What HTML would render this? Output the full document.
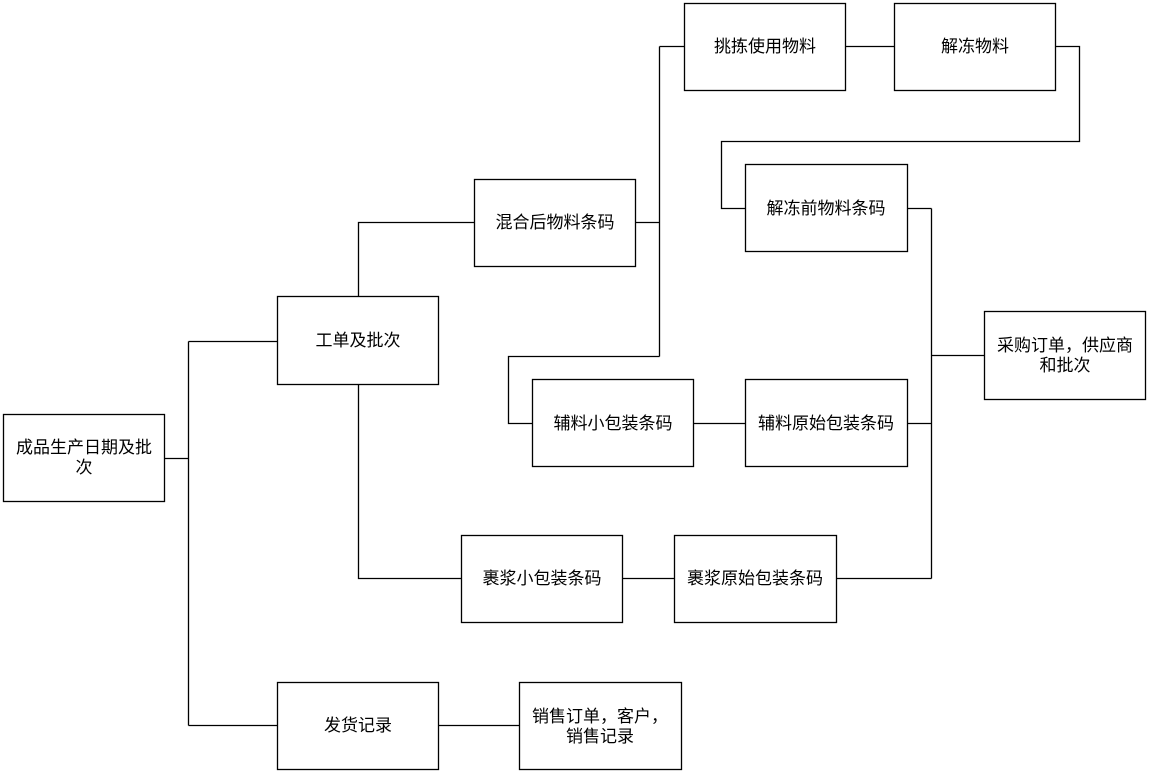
<!DOCTYPE html>
<html><head><meta charset="utf-8"><style>
html,body{margin:0;padding:0;background:#fff;width:1149px;height:773px;overflow:hidden}
svg text{font-family:"Liberation Sans","Noto Sans CJK SC",sans-serif;font-size:17px;fill:#000}
</style></head><body>
<svg width="1149" height="773" xmlns="http://www.w3.org/2000/svg">
<g fill="#fff" stroke="#000" stroke-width="1.3">
<rect x="3.5" y="414.5" width="161" height="87"/>
<rect x="277.5" y="296.5" width="161" height="88"/>
<rect x="474.5" y="179.5" width="161" height="87"/>
<rect x="684.5" y="3.5" width="161" height="87"/>
<rect x="894.5" y="3.5" width="161" height="87"/>
<rect x="745.5" y="164.5" width="162" height="87"/>
<rect x="984.5" y="311.5" width="161" height="88"/>
<rect x="532.5" y="379.5" width="161" height="87"/>
<rect x="745.5" y="379.5" width="162" height="87"/>
<rect x="461.5" y="535.5" width="161" height="87"/>
<rect x="674.5" y="535.5" width="162" height="87"/>
<rect x="277.5" y="682.5" width="161" height="87"/>
<rect x="519.5" y="682.5" width="162" height="87"/>
</g>
<g fill="none" stroke="#000" stroke-width="1.3">
<path d="M164.5 458.5H188.5M188.5 341.5V725.5M188.5 341.5H277.5M188.5 725.5H277.5"/>
<path d="M358.5 296.5V222.5H474.5M358.5 384.5V578.5H461.5"/>
<path d="M635.5 222.5H659.5M659.5 46.5V356.5M659.5 46.5H684.5M659.5 356.5H508.5V423.5H532.5"/>
<path d="M845.5 46.5H894.5M1055.5 46.5H1079.5V141.5H721.5V208.5H745.5"/>
<path d="M693.5 423.5H745.5M622.5 578.5H674.5"/>
<path d="M907.5 208.5H931.5M907.5 423.5H931.5M836.5 578.5H931.5M931.5 208.5V578.5M931.5 355.5H984.5"/>
<path d="M438.5 725.5H519.5"/>
</g>
<g text-anchor="middle">
<text x="84" y="453">成品生产日期及批</text><text x="84" y="473">次</text>
<text x="358" y="346">工单及批次</text>
<text x="555" y="228">混合后物料条码</text>
<text x="765" y="52">挑拣使用物料</text>
<text x="975" y="52">解冻物料</text>
<text x="826" y="214">解冻前物料条码</text>
<text x="1065" y="351">采购订单，供应商</text><text x="1065" y="371">和批次</text>
<text x="613" y="429">辅料小包装条码</text>
<text x="826" y="429">辅料原始包装条码</text>
<text x="542" y="584">裹浆小包装条码</text>
<text x="755" y="584">裹浆原始包装条码</text>
<text x="358" y="731">发货记录</text>
<text x="600" y="722">销售订单，客户，</text><text x="600" y="742">销售记录</text>
</g>
</svg>
</body></html>
